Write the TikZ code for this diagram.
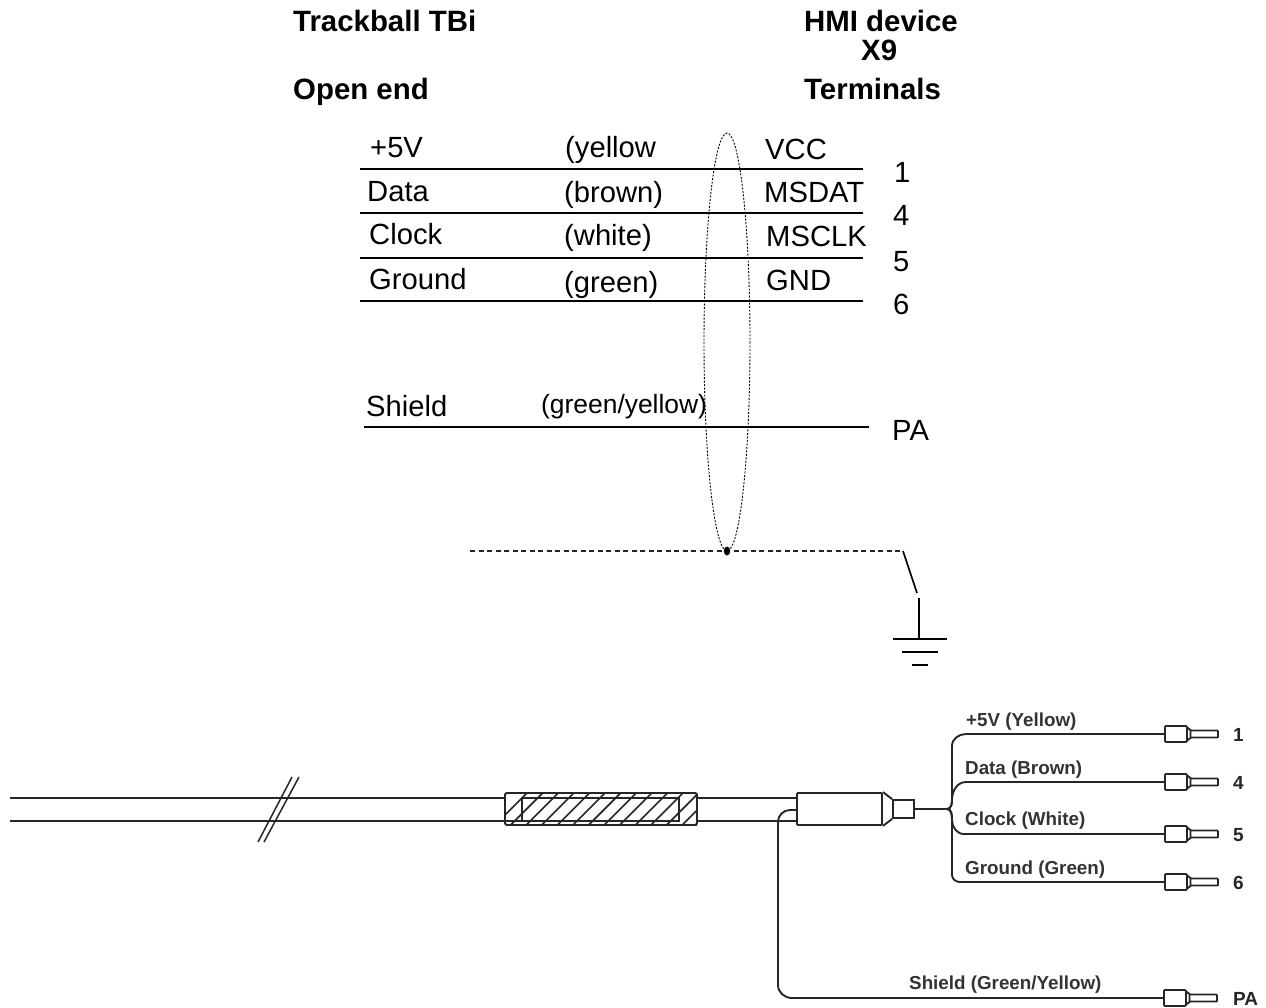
\documentclass[tikz,border=0pt]{standalone}
\usepackage{fontspec}
\setmainfont{Liberation Sans}
\tikzset{
  lab/.style={anchor=base west,inner sep=0pt,font=\fontsize{29.2}{30}\selectfont,text=black},
  colr/.style={anchor=base west,inner sep=0pt,font=\fontsize{26.4}{28}\selectfont,text=black},
  head/.style={anchor=base west,inner sep=0pt,font=\fontsize{29.4}{30}\selectfont\bfseries,text=black},
  wirelab/.style={anchor=base west,inner sep=0pt,font=\fontsize{18.8}{20}\selectfont\bfseries,text=black!80},
  termlab/.style={anchor=base west,inner sep=0pt,font=\fontsize{19}{20}\selectfont\bfseries,text=black!85},
  rule/.style={line width=1.6pt,black},
  wire/.style={line width=1.9pt,black!85},
  shieldring/.style={line width=0.9pt,dash pattern=on 2pt off 1.5pt,black},
  drain/.style={line width=1.2pt,dash pattern=on 5pt off 3.5pt,black!85},
  gnd/.style={line width=1.7pt,black},
  ferbody/.style={draw=black!85,line width=1.8pt,fill=white,rounded corners=1pt,inner sep=0pt,minimum width=22pt,minimum height=16pt},
  ferpin/.style={draw=black!85,line width=1.8pt,fill=white,inner sep=0pt,minimum width=28pt,minimum height=7pt,rounded corners=0.7pt},
  sleeve/.style={draw=black!85,line width=1.9pt,rounded corners=1.5pt},
  hatch/.style={line width=1.6pt,black!85}
}
\newcommand{\ferrule}[3]{%
  \node[ferpin,anchor=west] (#1pin) at (#2+25,#3) {};
  \draw[wire,fill=white] (#2+21,#3-8) -- (#2+26.5,#3-4) -- (#2+26.5,#3+4) -- (#2+21,#3+8);
  \node[ferbody,anchor=west] (#1) at (#2,#3) {};
}
\begin{document}
\begin{tikzpicture}[x=1pt,y=-1pt]
\useasboundingbox (0,0) rectangle (1266,1007);
% headings
\node[head] (h1) at (293,31) {Trackball TBi};
\node[head] (h2) at (293,99) {Open end};
\node[head] (h3) at (804,31) {HMI device};
\node[head] (h4) at (861,60) {X9};
\node[head] (h5) at (804,99) {Terminals};
% rule ends
\coordinate (l1) at (360,169); \coordinate (r1) at (863,169);
\coordinate (l2) at (360,213); \coordinate (r2) at (863,213);
\coordinate (l3) at (360,258); \coordinate (r3) at (863,258);
\coordinate (l4) at (360,301); \coordinate (r4) at (863,301);
\coordinate (l5) at (364,427); \coordinate (r5) at (869,427);
\foreach \i in {1,...,5} \draw[rule] (l\i) -- (r\i);
% upper labels
\node[lab] (a1) at (370,157) {+5V};
\node[lab] (b1) at (565,157) {(yellow};
\node[lab] (c1) at (765,159) {VCC};
\node[lab] (a2) at (367,201) {Data};
\node[lab] (b2) at (564,202) {(brown)};
\node[lab] (c2) at (764,202) {MSDAT};
\node[lab] (a3) at (369,244) {Clock};
\node[lab] (b3) at (564,245) {(white)};
\node[lab] (c3) at (766,246) {MSCLK};
\node[lab] (a4) at (369,289) {Ground};
\node[lab] (b4) at (564,292) {(green)};
\node[lab] (c4) at (766,290) {GND};
\node[lab] (a5) at (366,416) {Shield};
\node[colr] (b5) at (541,413) {(green/yellow)};
\node[lab] (n1) at (894,182) {1};
\node[lab] (n2) at (893,225) {4};
\node[lab] (n3) at (893,271) {5};
\node[lab] (n4) at (893,314) {6};
\node[lab] (n5) at (892,440) {PA};
% shield ring and drain
\draw[shieldring] (727,342) ellipse [x radius=23,y radius=209];
\coordinate (dl) at (470,551); \coordinate (dr) at (903,551);
\coordinate (dj) at (727,551);
\draw[drain] (dl) -- (dr);
\fill[black] (dj) ellipse [x radius=3.2,y radius=4.5];
% earth symbol
\coordinate (sw) at (917,593); \coordinate (et) at (919,598); \coordinate (eb) at (919,639);
\draw[gnd] (dr) -- (sw);
\draw[gnd] (et) -- (eb);
\draw[gnd] (893,639) -- (947,639);
\draw[gnd] (902,652) -- (938,652);
\draw[gnd] (912,665) -- (928,665);
% cable
\coordinate (ct0) at (10,798); \coordinate (cb0) at (10,821);
\coordinate (ct1) at (505,798);
\coordinate (ct2) at (697,798); \coordinate (cb2) at (697,821);
\node[draw=black!85,line width=1.9pt,fill=white,inner sep=0pt,minimum width=85pt,minimum height=32pt,rounded corners=1pt] (body) at (839.5,809) {};
\draw[wire] (ct0) -- (ct1);
\draw[wire] (cb0) -- (522,821);
\draw[wire] (ct2) -- (body.west |- ct2);
\draw[wire] (cb2) -- (body.west |- cb2);
% break mark
\coordinate (s1a) at (292,777); \coordinate (s1b) at (258,842);
\coordinate (s2a) at (299,777); \coordinate (s2b) at (264,842);
\draw[line width=1.5pt,black!85] (s1a) -- (s1b);
\draw[line width=1.5pt,black!85] (s2a) -- (s2b);
% sleeve
\begin{scope}
\clip (505,793) rectangle (697,825);
\foreach \k in {0,...,13} \draw[hatch] (491+\k*15.6,829) -- (491+\k*15.6+36,793);
\end{scope}
\draw[sleeve] (505,793) rectangle (697,825);
\draw[line width=1.6pt,black!85] (522,821) -- (522,798) -- (679,798) -- (679,821) -- cycle;
% connector
\node[draw=black!85,line width=1.9pt,fill=white,inner sep=0pt,minimum width=21pt,minimum height=18pt] (tip) at (903.5,809) {};
\draw[wire] (body.north east) -- (tip.north west) (body.south east) -- (tip.south west);
% shield wire
\coordinate (sj) at (778,998);
\ferrule{fp}{1163}{998}
\draw[wire] (body.west |- 0,810) -- (790,810) to[out=180,in=90] (778,822) -- (778,985) to[out=270,in=180] (792,998) -- (fp.west);
% fan-out
\ferrule{f1}{1164}{734}
\ferrule{f2}{1164}{782}
\ferrule{f3}{1164}{834}
\ferrule{f4}{1164}{882}
\coordinate (fan) at (947,809);
\draw[wire] (tip.east) -- (fan);
\draw[wire] (fan) to[out=0,in=270] (952,800) -- (952,746) to[out=90,in=180] (966,734) -- (f1.west);
\draw[wire] (fan) to[out=0,in=270] (952,800) to[out=90,in=180] (966,782) -- (f2.west);
\draw[wire] (fan) to[out=0,in=90] (952,820) to[out=270,in=180] (964,834) -- (f3.west);
\draw[wire] (fan) to[out=0,in=90] (952,820) -- (952,875) to[out=270,in=180] (960,882) -- (f4.west);
% lower labels
\node[wirelab] (w1) at (966,726) {+5V (Yellow)};
\node[wirelab] (w2) at (965,774) {Data (Brown)};
\node[wirelab] (w3) at (965,825) {Clock (White)};
\node[wirelab] (w4) at (965,874) {Ground (Green)};
\node[wirelab] (w5) at (909,989) {Shield (Green/Yellow)};
\node[termlab] (t1) at (1233,741) {1};
\node[termlab] (t2) at (1233,789) {4};
\node[termlab] (t3) at (1233,841) {5};
\node[termlab] (t4) at (1233,889) {6};
\node[termlab] (t5) at (1233,1005) {PA};
\end{tikzpicture}
\end{document}
